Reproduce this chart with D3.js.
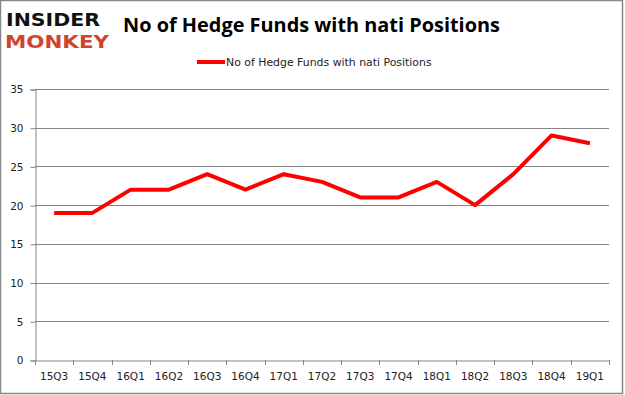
<!DOCTYPE html>
<html>
<head>
<meta charset="utf-8">
<script src="https://cdn.jsdelivr.net/npm/d3@7"></script>
<style>
  body { margin: 0; background: #fff; }
  #frame svg { display: block; }
</style>
</head>
<body>
<div id="frame"></div>
<script>
// data
const quarters = ["15Q3", "15Q4", "16Q1", "16Q2", "16Q3", "16Q4", "17Q1", "17Q2",
                  "17Q3", "17Q4", "18Q1", "18Q2", "18Q3", "18Q4", "19Q1"];
const funds = [19, 19, 22, 22, 24, 22, 24, 23, 21, 21, 23, 20, 24, 29, 28];
const yTicks = [0, 5, 10, 15, 20, 25, 30, 35];

const frameWidth = 625;
const frameHeight = 395;
const plotLeft = 35, plotRight = 609, plotTop = 89, plotBottom = 360;

let svg = d3.select("#frame")
        .append("svg")
        .attr("width", frameWidth)
        .attr("height", frameHeight);

// outer border
svg.append("rect")
        .attr("x", 0.5).attr("y", 0.5)
        .attr("width", frameWidth - 3).attr("height", frameHeight - 2)
        .attr("fill", "#fff")
        .attr("stroke", "#888")
        .attr("stroke-width", 1.5);

// logo
svg.append("text")
        .attr("x", 6).attr("y", 26)
        .attr("textLength", 94)
        .attr("lengthAdjust", "spacingAndGlyphs")
        .style("font-family", "DejaVu Sans")
        .style("font-weight", "bold")
        .style("font-size", "18px")
        .attr("fill", "#111")
        .text("INSIDER");
svg.append("text")
        .attr("x", 5).attr("y", 48)
        .attr("textLength", 104)
        .attr("lengthAdjust", "spacingAndGlyphs")
        .style("font-family", "DejaVu Sans")
        .style("font-weight", "bold")
        .style("font-size", "18px")
        .attr("fill", "#d0432c")
        .text("MONKEY");

// title
svg.append("text")
        .attr("x", 311.5).attr("y", 32)
        .attr("text-anchor", "middle")
        .style("font-family", "Open Sans")
        .style("font-weight", "bold")
        .style("font-size", "19.9px")
        .attr("fill", "#000")
        .text("No of Hedge Funds with nati Positions");

// legend
svg.append("line")
        .attr("x1", 197).attr("x2", 225)
        .attr("y1", 62).attr("y2", 62)
        .attr("stroke", "#ff0000")
        .attr("stroke-width", 4);
svg.append("text")
        .attr("x", 226).attr("y", 66)
        .style("font-family", "DejaVu Sans")
        .style("font-size", "10.9px")
        .attr("fill", "#222")
        .text("No of Hedge Funds with nati Positions");

// scales
let xScale = d3.scaleBand()
        .domain(quarters)
        .range([plotLeft, plotRight]);

let yScale = d3.scaleLinear()
        .domain([0, 35])
        .range([plotBottom, plotTop]);

// grid
svg.append("g")
        .selectAll("line")
        .data(yTicks.slice(1))
        .enter()
        .append("line")
        .attr("x1", plotLeft).attr("x2", plotRight)
        .attr("y1", d => Math.round(yScale(d)) + 0.5)
        .attr("y2", d => Math.round(yScale(d)) + 0.5)
        .attr("stroke", "#868686")
        .attr("stroke-width", 1);

// y axis
let yAxis = svg.append("g")
        .attr("transform", "translate(" + (plotLeft + 0.5) + ",0.5)")
        .call(d3.axisLeft(yScale).tickValues(yTicks).tickSize(5).tickPadding(7));

// x axis
let xAxis = svg.append("g")
        .attr("transform", "translate(0," + (plotBottom + 0.5) + ")")
        .call(d3.axisBottom(xScale).tickSize(0).tickPadding(12));

// x tick marks at band boundaries
svg.append("g")
        .selectAll("line")
        .data(d3.range(quarters.length + 1))
        .enter()
        .append("line")
        .attr("x1", i => Math.round(plotLeft + i * xScale.step()) + 0.5)
        .attr("x2", i => Math.round(plotLeft + i * xScale.step()) + 0.5)
        .attr("y1", plotBottom)
        .attr("y2", plotBottom + 5)
        .attr("stroke", "#868686");

[xAxis, yAxis].forEach(ax => {
    ax.select(".domain").attr("stroke", "#868686");
    ax.selectAll(".tick line").attr("stroke", "#868686");
    ax.selectAll("text")
        .style("font-family", "DejaVu Sans")
        .style("font-size", "10.5px")
        .attr("fill", "#222");
});

// line
let line = d3.line()
        .x((d, i) => xScale(quarters[i]) + xScale.bandwidth() / 2)
        .y(d => yScale(d));

svg.append("path")
        .datum(funds)
        .attr("d", line)
        .attr("fill", "none")
        .attr("stroke", "#ff0000")
        .attr("stroke-width", 4)
        .attr("stroke-linejoin", "round");
</script>
</body>
</html>
